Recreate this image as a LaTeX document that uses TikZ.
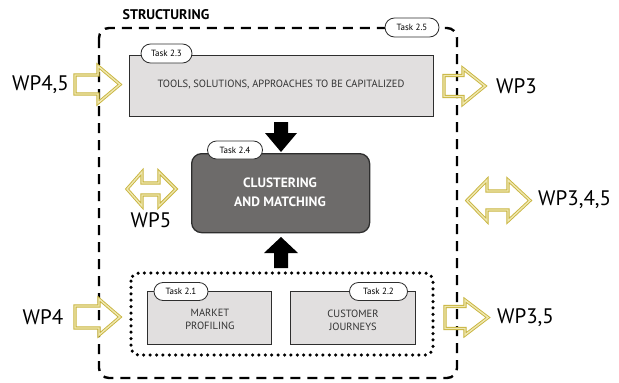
\documentclass[tikz,border=0pt]{standalone}
\usepackage{fontspec}
\setmainfont{PT Sans}
\usetikzlibrary{shapes.misc}
\definecolor{gold}{HTML}{C8B43E}
\definecolor{goldlight}{HTML}{EFE7B0}
\definecolor{boxgrey}{HTML}{E1DFDF}
\definecolor{darkbox}{HTML}{6D6B6A}
\definecolor{edge}{HTML}{2E2E2E}
\begin{document}
\begin{tikzpicture}[x=1pt,y=-1pt,
  taskbox/.style={draw=edge,line width=1.3pt,fill=boxgrey},
  pill/.style={draw=edge,line width=0.8pt,fill=white,rounded rectangle,minimum height=19pt,inner sep=0pt,font=\fontsize{9}{10}\selectfont},
  yarrow/.style={draw=gold,double=goldlight,double distance=1.4pt,line width=0.9pt,line join=miter},
  blackarrow/.style={fill=black,draw=none},
  wp/.style={font=\fontsize{21}{22}\selectfont,text=black,inner sep=0pt},
  boxtext/.style={font=\fontsize{10.5}{13}\selectfont,text=black!80,align=center,inner sep=0pt}
]
\useasboundingbox (0,0) rectangle (619,383);

% title
\node[font=\fontsize{14}{16}\bfseries\selectfont,inner sep=0pt] (title) at (166,15) {STRUCTURING};

% outer dashed box
\draw[line width=2.4pt,dash pattern=on 10pt off 7pt,rounded corners=10pt] (99,28) rectangle (457,378);
\node[pill,minimum width=54pt] (t25) at (412,27.5) {Task 2.5};

% Task 2.3 box
\node[taskbox,minimum width=304pt,minimum height=61pt,inner sep=0pt,anchor=north west] (b23) at (129,55) {};
\node[boxtext] (b23t) at (281,85) {TOOLS, SOLUTIONS, APPROACHES TO BE CAPITALIZED};
\node[pill,minimum width=51pt] (t23) at (166.5,53.5) {Task 2.3};

% Task 2.4 box
\node[draw=edge,line width=1.3pt,fill=darkbox,rounded corners=10pt,minimum width=178pt,minimum height=79pt,inner sep=0pt,anchor=north west] (b24) at (191,153) {};
\node[font=\fontsize{13.5}{19}\bfseries\selectfont,text=white,align=center,inner sep=0pt] (b24t) at (280,192) {CLUSTERING\\AND MATCHING};
\node[pill,minimum width=55pt,minimum height=18pt] (t24) at (235,150) {Task 2.4};

% dotted group box
\draw[line width=3.5pt,line cap=round,dash pattern=on 0pt off 6.4pt,rounded corners=8pt] (131,273) rectangle (433,355);

% Task 2.1 / 2.2 boxes
\node[taskbox,minimum width=124pt,minimum height=53pt,inner sep=0pt,anchor=north west] (b21) at (147,291) {};
\node[boxtext] (b21t) at (210,319.5) {MARKET\\PROFILING};
\node[pill,minimum width=54pt,minimum height=18pt] (t21) at (181,291.5) {Task 2.1};
\node[taskbox,minimum width=125pt,minimum height=53pt,inner sep=0pt,anchor=north west] (b22) at (290,291) {};
\node[boxtext] (b22t) at (353,320) {CUSTOMER\\JOURNEYS};
\node[pill,minimum width=58pt,minimum height=18pt] (t22) at (378.5,291.5) {Task 2.2};

% black arrows
\fill[blackarrow] (274,122) -- (288,122) -- (288,133) -- (297,133) -- (281,152) -- (265,133) -- (274,133) -- cycle;
\fill[blackarrow] (274,268) -- (288,268) -- (288,253) -- (298,253) -- (281,237) -- (264,253) -- (274,253) -- cycle;

% yellow single arrows (right)
\draw[yarrow] (75,75) -- (98,75) -- (98,66) -- (120,84.5) -- (98,103) -- (98,94) -- (75,94) -- cycle;
\draw[yarrow] (444,75.5) -- (463,75.5) -- (463,68.5) -- (485,86) -- (463,104) -- (463,96.5) -- (444,96.5) -- cycle;
\draw[yarrow] (75,306) -- (99,306) -- (99,299) -- (120,317) -- (99,335) -- (99,328) -- (75,328) -- cycle;
\draw[yarrow] (445,306.5) -- (465,306.5) -- (465,300) -- (488,317.5) -- (465,335) -- (465,328.5) -- (445,328.5) -- cycle;

% yellow double arrows
\draw[yarrow] (127,189) -- (142,172) -- (142,183) -- (159,183) -- (159,172) -- (176,189) -- (159,206) -- (159,195) -- (142,195) -- (142,206) -- cycle;
\draw[yarrow] (467,200.5) -- (487,180) -- (487,191) -- (508,191) -- (508,180) -- (530,200.5) -- (508,221) -- (508,210) -- (487,210) -- (487,221) -- cycle;

% WP labels
\node[wp] (wp45) at (40.5,85) {WP4,5};
\node[wp] (wp3) at (516.5,86) {WP3};
\node[wp] (wp5) at (151,220) {WP5};
\node[wp,anchor=west] (wp345) at (538,200) {WP3,4,5};
\node[wp] (wp4) at (43,317) {WP4};
\node[wp] (wp35) at (525.5,318) {WP3,5};
\end{tikzpicture}
\end{document}
